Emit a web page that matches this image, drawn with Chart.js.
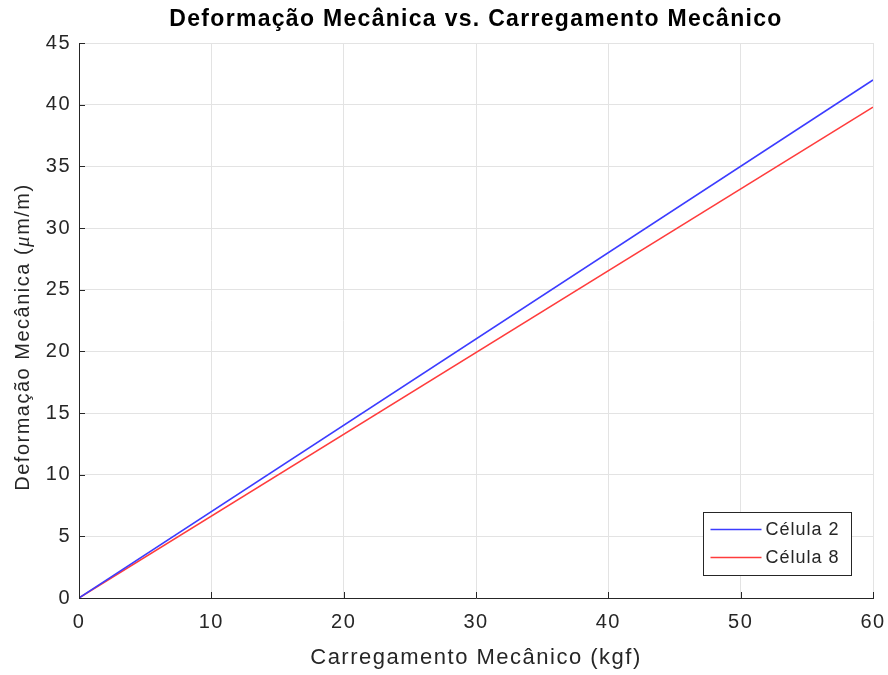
<!DOCTYPE html>
<html>
<head>
<meta charset="utf-8">
<script src="https://cdn.jsdelivr.net/npm/chart.js@4"></script>
<style>
  html, body { margin: 0; padding: 0; background: #fff; }
  #wrap { width: 888px; height: 675px; }
</style>
</head>
<body>
<div id="wrap"><canvas id="chart" width="888" height="675"></canvas></div>
<script>
// Load values (kgf) and strain (um/m)
const loadKgf = [0, 60];
const cell2Strain = [0, 42.0];
const cell8Strain = [0, 39.8];
const seriesLabels = ['Célula 2', 'Célula 8'];
const seriesColors = ['rgb(60, 60, 255)', 'rgb(255, 60, 60)'];
const xTicks = [0, 10, 20, 30, 40, 50, 60];
const yTicks = [0, 5, 10, 15, 20, 25, 30, 35, 40, 45];

const chartTitle = 'Deformação Mecânica vs. Carregamento Mecânico';
// y label pieces: the mu is set in italic like the TeX original
const yLabelParts = [
    { text: 'Deformação Mecânica (', italic: false },
    { text: 'μ', italic: true },
    { text: 'm/m)', italic: false }
];

const FONT = 'Liberation Sans, Arial, Helvetica, sans-serif';
const SERIF = 'Liberation Serif, DejaVu Serif, serif';
const AXIS_COLOR = '#262626';

function toPoints(xs, ys) {
    return xs.map((x, i) => ({ x: x, y: ys[i] }));
}

// MATLAB text is a bit wider than plain Helvetica
const wideText = {
    id: 'wideText',
    beforeDraw(chart) {
        chart.ctx.letterSpacing = '1.5px';
    }
};

// Title centred over the plot area and the rotated y label
const labels = {
    id: 'labels',
    afterDraw(chart) {
        const { ctx, chartArea } = chart;
        ctx.save();
        ctx.fillStyle = '#000';
        ctx.font = 'bold 23px ' + FONT;
        ctx.letterSpacing = '1.3px';
        ctx.textAlign = 'center';
        ctx.textBaseline = 'middle';
        ctx.fillText(chartTitle, (chartArea.left + chartArea.right) / 2, 20);
        ctx.restore();

        ctx.save();
        ctx.fillStyle = AXIS_COLOR;
        ctx.letterSpacing = '1.5px';
        ctx.textBaseline = 'middle';
        ctx.textAlign = 'left';
        const fontFor = p => p.italic ? 'italic 21px ' + SERIF : '20px ' + FONT;
        let total = 0;
        yLabelParts.forEach(p => {
            ctx.font = fontFor(p);
            total += ctx.measureText(p.text).width;
        });
        ctx.translate(23, 337);
        ctx.rotate(-Math.PI / 2);
        let x = -total / 2;
        yLabelParts.forEach(p => {
            ctx.font = fontFor(p);
            ctx.fillText(p.text, x, 0);
            x += ctx.measureText(p.text).width;
        });
        ctx.restore();
    }
};

// MATLAB-style inward ticks
const inwardTicks = {
    id: 'inwardTicks',
    afterDatasetsDraw(chart) {
        const { ctx, chartArea, scales } = chart;
        ctx.save();
        ctx.strokeStyle = AXIS_COLOR;
        ctx.lineWidth = 1;
        ctx.beginPath();
        xTicks.forEach(v => {
            const px = Math.round(scales.x.getPixelForValue(v)) + 0.5;
            ctx.moveTo(px, chartArea.bottom);
            ctx.lineTo(px, chartArea.bottom - 6);
        });
        yTicks.forEach(v => {
            const py = Math.round(scales.y.getPixelForValue(v)) + 0.5;
            ctx.moveTo(chartArea.left, py);
            ctx.lineTo(chartArea.left + 6, py);
        });
        ctx.stroke();
        ctx.restore();
    }
};

// Legend box in the lower right corner of the plot
const boxLegend = {
    id: 'boxLegend',
    afterDraw(chart) {
        const { ctx, chartArea } = chart;
        const w = 148, h = 63;
        const x0 = chartArea.right - 22 - w + 0.5;
        const y0 = chartArea.bottom - 23 - h + 0.5;
        ctx.save();
        ctx.fillStyle = '#fff';
        ctx.fillRect(x0, y0, w, h);
        ctx.strokeStyle = AXIS_COLOR;
        ctx.lineWidth = 1;
        ctx.strokeRect(x0, y0, w, h);
        ctx.font = '18px ' + FONT;
        ctx.letterSpacing = '1px';
        ctx.textBaseline = 'middle';
        seriesLabels.forEach((label, i) => {
            const y = y0 + 17 + i * 28;
            ctx.strokeStyle = seriesColors[i];
            ctx.lineWidth = 1.5;
            ctx.beginPath();
            ctx.moveTo(x0 + 7, y);
            ctx.lineTo(x0 + 58, y);
            ctx.stroke();
            ctx.fillStyle = AXIS_COLOR;
            ctx.fillText(label, x0 + 62, y + 1);
        });
        ctx.restore();
    }
};

new Chart(document.getElementById('chart'), {
    type: 'line',
    data: {
        datasets: [
            {
                label: seriesLabels[0],
                data: toPoints(loadKgf, cell2Strain),
                borderColor: seriesColors[0],
                borderWidth: 1.5,
                pointRadius: 0,
                fill: false
            },
            {
                label: seriesLabels[1],
                data: toPoints(loadKgf, cell8Strain),
                borderColor: seriesColors[1],
                borderWidth: 1.5,
                pointRadius: 0,
                fill: false
            }
        ]
    },
    options: {
        responsive: false,
        animation: false,
        devicePixelRatio: 1,
        layout: { padding: { left: 0, right: 15, top: 43, bottom: 0 } },
        plugins: {
            legend: { display: false },
            tooltip: { enabled: false },
            title: { display: false }
        },
        scales: {
            x: {
                type: 'linear',
                min: 0,
                max: 60,
                afterBuildTicks: scale => { scale.ticks = xTicks.map(v => ({ value: v })); },
                afterFit: scale => {
                    scale.height = 77;
                    scale.paddingLeft = 0;
                    scale.paddingRight = 0;
                },
                ticks: {
                    color: AXIS_COLOR,
                    font: { family: FONT, size: 20 },
                    padding: 12,
                    maxRotation: 0
                },
                grid: { color: '#e3e3e3', drawTicks: false },
                border: { display: true, color: AXIS_COLOR, width: 1 },
                title: {
                    display: true,
                    text: 'Carregamento Mecânico (kgf)',
                    color: AXIS_COLOR,
                    font: { family: FONT, size: 22 },
                    padding: { top: 0, bottom: 4 }
                }
            },
            y: {
                type: 'linear',
                min: 0,
                max: 45,
                afterBuildTicks: scale => { scale.ticks = yTicks.map(v => ({ value: v })); },
                afterFit: scale => {
                    scale.width = 79;
                    scale.paddingTop = 0;
                    scale.paddingBottom = 0;
                },
                ticks: {
                    color: AXIS_COLOR,
                    font: { family: FONT, size: 20 },
                    padding: 8
                },
                grid: { color: '#e3e3e3', drawTicks: false },
                border: { display: true, color: AXIS_COLOR, width: 1 }
            }
        }
    },
    plugins: [wideText, inwardTicks, labels, boxLegend]
});
</script>
</body>
</html>
